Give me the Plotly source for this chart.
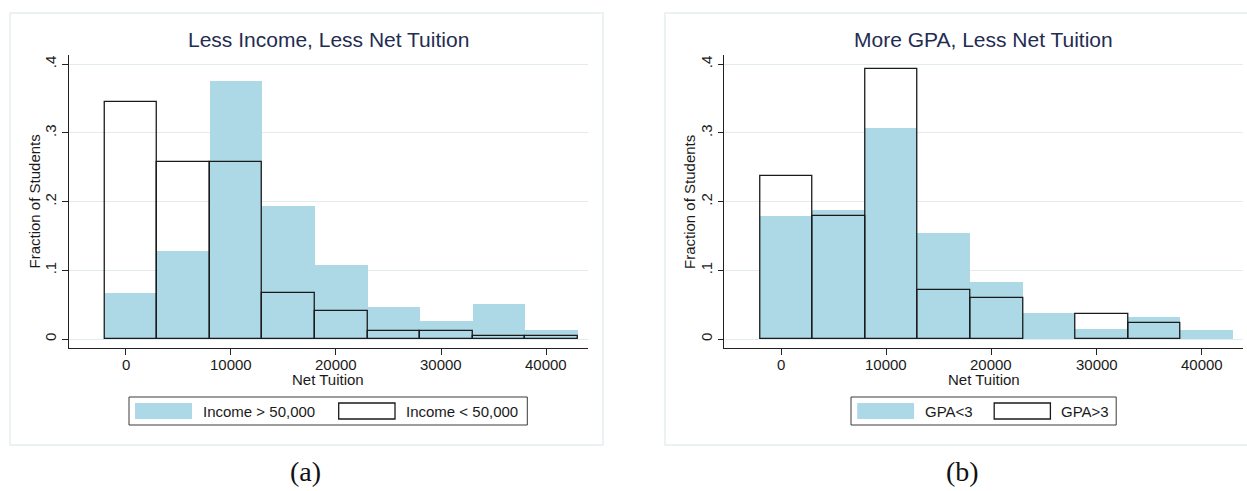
import plotly.graph_objects as go

# Histogram bins (net tuition, dollars) shared by both panels
bin_edges = [-2000, 3000, 8000, 13000, 18000, 23000, 28000, 33000, 38000, 43000]

# Panel (a): fraction of students per bin by family income
income_high = [0.067, 0.128, 0.375, 0.194, 0.108, 0.047, 0.026, 0.051, 0.013]
income_low = [0.345, 0.258, 0.258, 0.067, 0.041, 0.011, 0.011, 0.005, 0.005]

# Panel (b): fraction of students per bin by GPA (None = empty bin)
gpa_low = [0.179, 0.188, 0.307, 0.154, 0.083, 0.038, 0.015, 0.032, 0.013]
gpa_high = [0.238, 0.179, 0.393, 0.072, 0.060, None, 0.036, 0.024, None]

x_ticks = [0, 10000, 20000, 30000, 40000]
y_ticks = [0, 0.1, 0.2, 0.3, 0.4]
y_tick_labels = ["0", ".1", ".2", ".3", ".4"]

panel_titles = ["Less Income, Less Net Tuition", "More GPA, Less Net Tuition"]
legend_labels = [["Income > 50,000", "Income < 50,000"], ["GPA<3", "GPA>3"]]
captions = ["(a)", "(b)"]
x_title = "Net Tuition"
y_title = "Fraction of Students"

# ---- page geometry (pixels) ----
W, H = 1247, 491
FONT = "Liberation Sans, Arial, Helvetica, sans-serif"
FILL = "#add8e6"
EDGE = "#1a1a1a"
NAVY = "#1f2d52"
GRID = "#e2ebef"
TEXT = "#1a1a1a"


def px(x):
    return x / W


def py(y):
    return 1 - y / H


centers = [(a + b) / 2 for a, b in zip(bin_edges[:-1], bin_edges[1:])]
widths = [b - a for a, b in zip(bin_edges[:-1], bin_edges[1:])]

fig = go.Figure()

series = [(income_high, income_low), (gpa_low, gpa_high)]
for i, (filled, outlined) in enumerate(series):
    xa = "x" if i == 0 else "x2"
    ya = "y" if i == 0 else "y2"
    fig.add_trace(go.Bar(
        x=centers, y=filled, width=widths, xaxis=xa, yaxis=ya,
        name=legend_labels[i][0], showlegend=False,
        marker=dict(color=FILL, line=dict(width=0)),
    ))
    fig.add_trace(go.Bar(
        x=centers, y=outlined, width=widths, xaxis=xa, yaxis=ya,
        name=legend_labels[i][1], showlegend=False,
        marker=dict(color="rgba(0,0,0,0)", line=dict(color=EDGE, width=1.3)),
    ))

# plot-area pixel extents for the two panels
plot_x = [(68.9, 587.7), (724.4, 1243.3)]
plot_top, plot_bottom = 55, 348.3
frames = [(10, 603), (665, 1258)]
legend_boxes = [(129, 527.3), (851, 1116.2)]
swatches = [[(135, 192), (338.7, 395)], [(857.2, 914.1), (994.2, 1050.4)]]
legend_text_x = [[201, 403.7], [922.6, 1059.3]]
caption_x = [305, 963]

axis_common = dict(
    showline=True, linecolor="#222222", linewidth=1,
    ticks="outside", ticklen=5.5, tickwidth=1, tickcolor="#222222",
    tickfont=dict(family=FONT, size=15, color=TEXT),
    zeroline=False,
)

shapes = []
annotations = []

for i in range(2):
    sfx = "" if i == 0 else "2"
    x0, x1 = plot_x[i]
    fig.layout["xaxis" + sfx] = dict(
        axis_common,
        domain=[px(x0), px(x1)], range=[-5400, 43950],
        tickvals=x_ticks, showticklabels=False,
        showgrid=False, anchor="y" + sfx,
    )
    fig.layout["yaxis" + sfx] = dict(
        axis_common,
        domain=[py(plot_bottom), py(plot_top)], range=[-0.0135, 0.4135],
        tickvals=y_ticks, ticktext=y_tick_labels, tickangle=-90,
        showgrid=True, gridcolor=GRID, gridwidth=1,
        anchor="x" + sfx,
    )

    # x tick labels placed on the data scale
    for v in x_ticks:
        annotations.append(dict(
            text=str(v), xref="x" + sfx, yref="paper",
            x=v, y=py(364), xanchor="center", yanchor="middle",
            showarrow=False, font=dict(family=FONT, size=15, color=TEXT),
        ))

    # panel frame
    fx0, fx1 = frames[i]
    shapes.append(dict(type="rect", xref="paper", yref="paper",
                       x0=px(fx0), x1=px(fx1), y0=py(445), y1=py(13),
                       line=dict(color="#e6eef1", width=1.5), layer="below"))

    # legend box and swatches
    lx0, lx1 = legend_boxes[i]
    shapes.append(dict(type="rect", xref="paper", yref="paper",
                       x0=px(lx0), x1=px(lx1), y0=py(425), y1=py(397),
                       line=dict(color="#3a3a3a", width=1), fillcolor="white"))
    (s0a, s0b), (s1a, s1b) = swatches[i]
    shapes.append(dict(type="rect", xref="paper", yref="paper",
                       x0=px(s0a), x1=px(s0b), y0=py(419), y1=py(403),
                       line=dict(width=0), fillcolor=FILL))
    shapes.append(dict(type="rect", xref="paper", yref="paper",
                       x0=px(s1a), x1=px(s1b), y0=py(419), y1=py(403),
                       line=dict(color=EDGE, width=1.3), fillcolor="white"))
    for k in range(2):
        annotations.append(dict(
            text=legend_labels[i][k], xref="paper", yref="paper",
            x=px(legend_text_x[i][k]), y=py(411), xanchor="left", yanchor="middle",
            showarrow=False, font=dict(family=FONT, size=15, color=TEXT),
        ))

    # titles
    cx = (x0 + x1) / 2
    annotations.append(dict(
        text=panel_titles[i], xref="paper", yref="paper",
        x=px(cx), y=py(40), xanchor="center", yanchor="middle",
        showarrow=False, font=dict(family=FONT, size=21, color=NAVY),
    ))
    annotations.append(dict(
        text=x_title, xref="paper", yref="paper",
        x=px(cx), y=py(379), xanchor="center", yanchor="middle",
        showarrow=False, font=dict(family=FONT, size=15, color=TEXT),
    ))
    annotations.append(dict(
        text=y_title, xref="paper", yref="paper",
        x=px(x0 - 35.4), y=py(202), xanchor="center", yanchor="middle",
        textangle=-90, showarrow=False,
        font=dict(family=FONT, size=15, color=TEXT),
    ))
    annotations.append(dict(
        text=captions[i], xref="paper", yref="paper",
        x=px(caption_x[i]), y=py(471), xanchor="center", yanchor="middle",
        showarrow=False,
        font=dict(family="Liberation Serif, DejaVu Serif, serif", size=28, color="#111111"),
    ))

fig.update_layout(
    width=W, height=H, autosize=False,
    margin=dict(l=0, r=0, t=0, b=0, pad=0),
    paper_bgcolor="white", plot_bgcolor="white",
    barmode="overlay", bargap=0,
    shapes=shapes, annotations=annotations,
    showlegend=False,
)

fig.write_html("out.html")
